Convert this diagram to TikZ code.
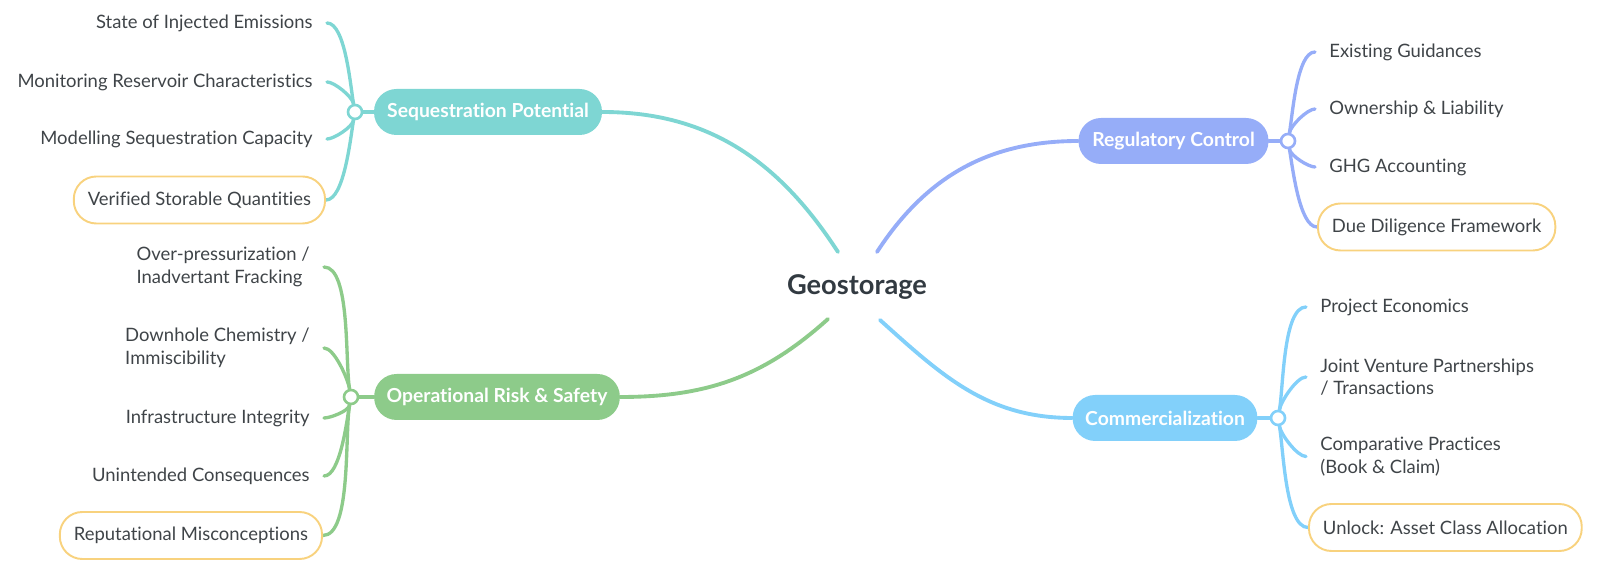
\documentclass[tikz,border=0pt]{standalone}
\usepackage{fontspec}
\setmainfont{Lato}[Ligatures={NoCommon}]
\usepackage{tikz}
\usetikzlibrary{backgrounds}
\usepackage{xcolor}
\definecolor{seqteal}{HTML}{7ED6D3}
\definecolor{regblue}{HTML}{96ADF8}
\definecolor{opgreen}{HTML}{8DCB8A}
\definecolor{comblue}{HTML}{82D0FA}
\definecolor{keyamber}{HTML}{F8D27E}
\definecolor{leafgrey}{HTML}{3F4448}
\definecolor{topicgrey}{HTML}{323A41}

\begin{document}
\begin{tikzpicture}[x=0.02cm, y=0.02cm,
  every node/.style={font=\fontsize{10.5}{12.8}\selectfont},
  topic/.style={font=\fontsize{15.5}{18}\selectfont\bfseries, text=topicgrey},
  branch/.style={rounded corners=0.45cm, minimum height=0.92cm, text=white,
    font=\fontsize{11}{13}\selectfont\bfseries, inner xsep=0.25cm},
  leaf/.style={text=leafgrey, align=left, inner xsep=0.28cm, inner ysep=0.1cm},
  keyleaf/.style={leaf, draw=keyamber, line width=1.1pt, rounded corners=0.45cm,
    minimum height=0.94cm},
  hub/.style={circle, fill=white, draw, line width=1.5pt, minimum size=0.28cm, inner sep=0pt},
  trunk/.style={line width=2.2pt, line cap=round},
  twig/.style={line width=1.9pt, line cap=round}]
\useasboundingbox (0,0) rectangle (1600,574);
% centre
\node[topic] (geo) at (857,287) {Geostorage};
\coordinate (geoS) at (838,322);
\coordinate (geoR) at (877,322);
\coordinate (geoO) at (828,255);
\coordinate (geoC) at (880,254);
% sequestration
\node[branch, fill=seqteal, minimum width=4.56cm] (seq) at (488,462) {Sequestration Potential};
\node[hub, draw=seqteal] (seqhub) at (355,462) {};
\node[leaf, anchor=east] (seq1) at (327,551) {State of Injected Emissions};
\node[leaf, anchor=east] (seq2) at (327,492) {Monitoring Reservoir Characteristics};
\node[leaf, anchor=east] (seq3) at (327,435) {Modelling Sequestration Capacity};
\node[keyleaf, anchor=east] (seq4) at (326,374) {Verified Storable Quantities};
% operational
\node[branch, fill=opgreen, minimum width=4.9cm] (op) at (497,177) {Operational Risk \& Safety};
\node[hub, draw=opgreen] (ophub) at (351,177) {};
\node[leaf, anchor=east] (op1) at (324,307) {Over-pressurization /\\Inadvertant Fracking};
\node[leaf, anchor=east] (op2) at (324,226) {Downhole Chemistry /\\Immiscibility};
\node[leaf, anchor=east] (op3) at (324,156) {Infrastructure Integrity};
\node[leaf, anchor=east] (op4) at (324,98) {Unintended Consequences};
\node[keyleaf, anchor=east] (op5) at (323,38.5) {Reputational Misconceptions};
% regulatory
\node[branch, fill=regblue, minimum width=3.8cm] (reg) at (1173.5,433) {Regulatory Control};
\node[hub, draw=regblue] (reghub) at (1288,433) {};
\node[leaf, anchor=west] (reg1) at (1315,522) {Existing Guidances};
\node[leaf, anchor=west] (reg2) at (1315,465) {Ownership \& Liability};
\node[leaf, anchor=west] (reg3) at (1315,407) {GHG Accounting};
\node[keyleaf, anchor=west] (reg4) at (1317,347) {Due Diligence Framework};
% commercialization
\node[branch, fill=comblue, minimum width=3.67cm] (com) at (1165,156) {Commercialization};
\node[hub, draw=comblue] (comhub) at (1278,156) {};
\node[leaf, anchor=west] (com1) at (1306,267) {Project Economics};
\node[leaf, anchor=west] (com2) at (1306,197) {Joint Venture Partnerships\\/ Transactions};
\node[leaf, anchor=west] (com3) at (1306,117.5) {Comparative Practices\\(Book \& Claim)};
\node[keyleaf, anchor=west] (com4) at (1308,46.5) {Unlock: Asset Class Allocation};
\begin{scope}[on background layer]
\draw[trunk, seqteal] (seq.east) to[out=0, in=123] (geoS);
\draw[trunk, regblue] (reg.west) to[out=180, in=57] (geoR);
\draw[trunk, opgreen] (op.east) to[out=0, in=222] (geoO);
\draw[trunk, comblue] (com.west) to[out=180, in=318] (geoC);
\draw[twig, seqteal] (seq) -- (seqhub);
\draw[twig, opgreen] (op) -- (ophub);
\draw[twig, regblue] (reg) -- (reghub);
\draw[twig, comblue] (com) -- (comhub);
\foreach \n/\a in {seq1/100, seq2/100, seq3/260, seq4/260} {
  \draw[twig, seqteal] (\n.east) to[out=0, in=\a, looseness=0.55] (seqhub);}
\foreach \n/\a in {op1/100, op2/100, op3/260, op4/260, op5/260} {
  \draw[twig, opgreen] (\n.east) to[out=0, in=\a, looseness=0.55] (ophub);}
\foreach \n/\a in {reg1/80, reg2/80, reg3/280, reg4/280} {
  \draw[twig, regblue] (\n.west) to[out=180, in=\a, looseness=0.55] (reghub);}
\foreach \n/\a in {com1/80, com2/80, com3/280, com4/280} {
  \draw[twig, comblue] (\n.west) to[out=180, in=\a, looseness=0.55] (comhub);}
\end{scope}
\end{tikzpicture}
\end{document}
